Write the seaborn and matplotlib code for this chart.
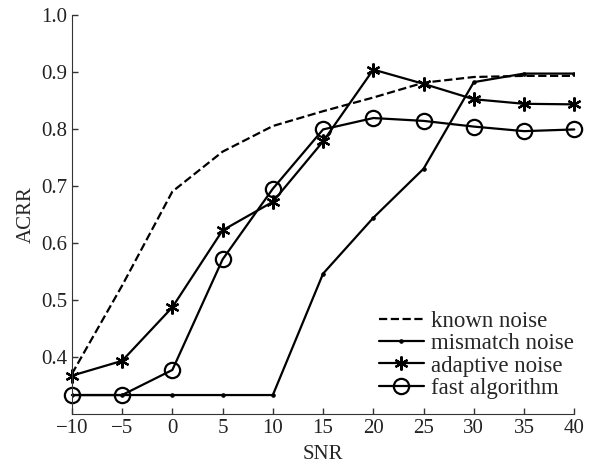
import pandas as pd
import matplotlib
matplotlib.use('Agg')
import matplotlib.pyplot as plt
import seaborn as sns

snr = [-10, -5, 0, 5, 10, 15, 20, 25, 30, 35, 40]
known_noise = [0.370, 0.525, 0.690, 0.760, 0.805, 0.831, 0.855, 0.881, 0.891, 0.893, 0.893]
mismatch_noise = [0.333, 0.333, 0.333, 0.333, 0.333, 0.546, 0.644, 0.730, 0.882, 0.897, 0.897]
adaptive_noise = [0.367, 0.393, 0.487, 0.622, 0.672, 0.778, 0.904, 0.879, 0.852, 0.844, 0.843]
fast_algorithm = [0.333, 0.333, 0.377, 0.571, 0.695, 0.799, 0.819, 0.814, 0.804, 0.796, 0.799]

sns.set_style('ticks')
plt.rcParams['font.family'] = ['Liberation Serif', 'DejaVu Serif']
plt.rcParams['font.size'] = 15

fig = plt.figure(figsize=(6.09, 4.65), dpi=100)
ax = fig.add_axes([0.118, 0.110, 0.825, 0.858])

sns.lineplot(x=snr, y=known_noise, ax=ax, color='black', linestyle='--', lw=1.6,
             label='known noise')
sns.lineplot(x=snr, y=mismatch_noise, ax=ax, color='black', lw=1.6, marker='o',
             markersize=2.5, markeredgecolor='black', label='mismatch noise')
sns.lineplot(x=snr, y=adaptive_noise, ax=ax, color='black', lw=1.6, marker=(6, 2, 0),
             markersize=10, markeredgewidth=1.6, markeredgecolor='black',
             label='adaptive noise', clip_on=False)
sns.lineplot(x=snr, y=fast_algorithm, ax=ax, color='black', lw=1.6, marker='o',
             markersize=11, markerfacecolor='none', markeredgecolor='black',
             markeredgewidth=1.6, label='fast algorithm', clip_on=False)

ax.set_xlim(-10, 40)
ax.set_ylim(0.3, 1.0)
ax.set_xticks(snr)
ax.set_xticklabels([str(v).replace('-', '\u2212') for v in snr])
ax.set_yticks([0.4, 0.5, 0.6, 0.7, 0.8, 0.9, 1.0])
ax.tick_params(direction='in', length=4, width=1, colors='#333333', labelcolor='#222222')
for s in ['left', 'bottom']:
    ax.spines[s].set_color('#333333')
sns.despine(ax=ax)

ax.set_xlabel('SNR', labelpad=5)
ax.set_ylabel('ACRR', labelpad=4)

ax.legend(loc='lower right', frameon=False, fontsize=16.5, handlelength=2.0,
          handletextpad=0.3, labelspacing=0.05, borderaxespad=0,
          bbox_to_anchor=(1.018, 0.015))

fig.savefig('out.png', dpi=100)
